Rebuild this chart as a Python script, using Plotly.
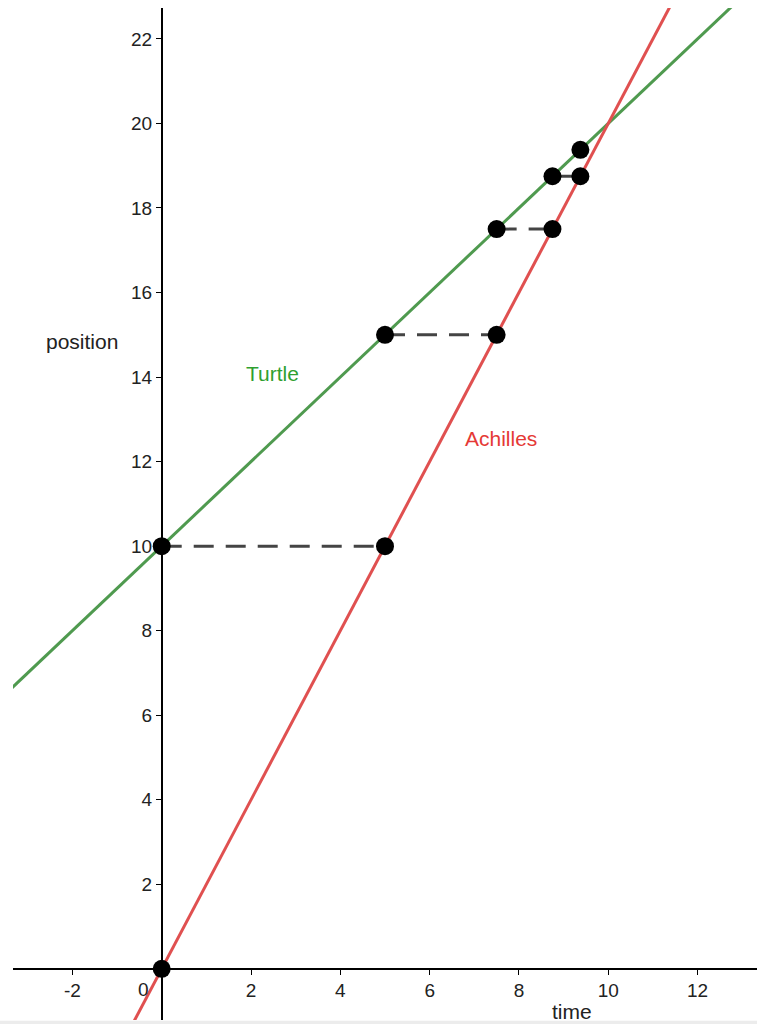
import plotly.graph_objects as go

# ---- data ----
chase_times = [0, 5, 7.5, 8.75, 9.375]
achilles_pos = [0, 10, 15, 17.5, 18.75]
turtle_pos = [10, 15, 17.5, 18.75, 19.375]
turtle_start = 10
turtle_speed = 1
achilles_speed = 2
line_times = [-4, 14]
x_ticks = [-2, 2, 4, 6, 8, 10, 12]
x_tick_text = ["-2", "2", "4", "6", "8", "10", "12"]
y_ticks = [2, 4, 6, 8, 10, 12, 14, 16, 18, 20, 22]

x_range = [-3.33, 13.33]
y_range = [-1.21, 22.73]

FONT = "Liberation Sans, Arial, sans-serif"

fig = go.Figure()

# lines
fig.add_trace(go.Scatter(
    x=line_times, y=[turtle_start + turtle_speed * t for t in line_times],
    mode="lines", line=dict(color="#4f9a4f", width=3), hoverinfo="skip"))
fig.add_trace(go.Scatter(
    x=line_times, y=[achilles_speed * t for t in line_times],
    mode="lines", line=dict(color="#e05050", width=3), hoverinfo="skip"))

# dashed chase segments
for i in range(len(chase_times) - 1):
    fig.add_trace(go.Scatter(
        x=[chase_times[i], chase_times[i + 1]],
        y=[turtle_pos[i], achilles_pos[i + 1]],
        mode="lines", line=dict(color="#444444", width=3, dash="20px,12px"),
        hoverinfo="skip"))

# points
fig.add_trace(go.Scatter(
    x=chase_times + chase_times, y=achilles_pos + turtle_pos,
    mode="markers", marker=dict(color="black", size=18), hoverinfo="skip"))

tick_font = dict(family=FONT, size=19, color="#222")

fig.update_layout(
    width=757, height=1024, autosize=False,
    margin=dict(l=13, r=0, t=8, b=4),
    paper_bgcolor="white", plot_bgcolor="white",
    showlegend=False,
    xaxis=dict(
        range=x_range, showgrid=False, zeroline=False,
        showline=True, linecolor="black", linewidth=1.5,
        anchor="free",
        position=(0 - y_range[0]) / (y_range[1] - y_range[0]),
        tickvals=x_ticks, ticktext=x_tick_text,
        ticks="outside", ticklen=5, tickcolor="black",
        tickfont=tick_font, layer="below traces"),
    yaxis=dict(
        range=y_range, showgrid=False, zeroline=False,
        showline=True, linecolor="black", linewidth=1.5,
        anchor="free",
        position=(0 - x_range[0]) / (x_range[1] - x_range[0]),
        tickvals=y_ticks, ticks="outside", ticklen=5, tickcolor="black",
        tickfont=tick_font, layer="below traces"),
    shapes=[dict(type="rect", xref="paper", yref="paper",
                 x0=-0.02, x1=1.0, y0=-0.0045, y1=-0.0008,
                 fillcolor="#ececec", line=dict(width=0), layer="below")],
)

fig.add_annotation(x=0, y=0, text="0", showarrow=False, xanchor="right",
                   yanchor="top", xshift=-11, yshift=-8, font=tick_font)
fig.add_annotation(x=-1.79, y=14.83, text="position", showarrow=False,
                   font=dict(family=FONT, size=21, color="#222"))
fig.add_annotation(x=9.19, y=-1.02, text="time", showarrow=False,
                   font=dict(family=FONT, size=21, color="#222"))
fig.add_annotation(x=2.47, y=14.08, text="Turtle", showarrow=False,
                   font=dict(family=FONT, size=21, color="#2f9f2f"))
fig.add_annotation(x=7.6, y=12.54, text="Achilles", showarrow=False,
                   font=dict(family=FONT, size=21, color="#e53935"))

fig.write_html("out.html", config={"displayModeBar": False},
               post_script="document.body.style.margin='0';")
